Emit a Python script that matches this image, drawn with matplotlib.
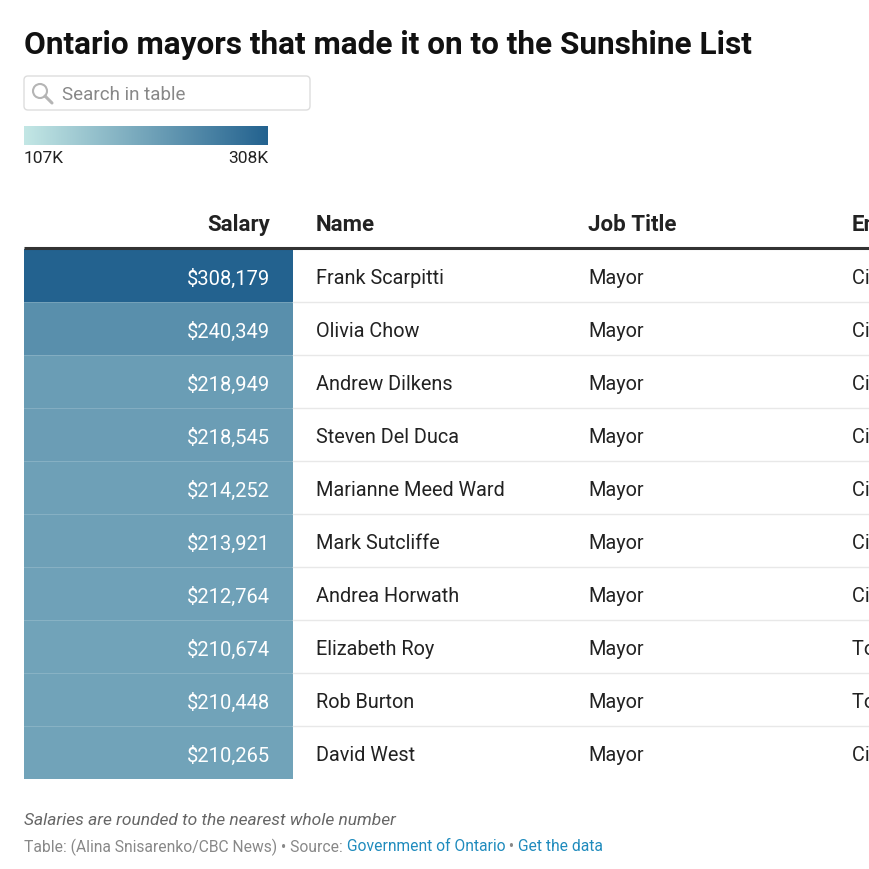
import matplotlib
matplotlib.use("Agg")
import matplotlib.pyplot as plt
from matplotlib.colors import LinearSegmentedColormap, Normalize
from matplotlib.patches import Rectangle, FancyBboxPatch, Circle
import numpy as np

plt.rcParams['font.family'] = ['Roboto', 'DejaVu Sans']

# Data
salaries = [308179, 240349, 218949, 218545, 214252, 213921, 212764, 210674, 210448, 210265]
names = ["Frank Scarpitti", "Olivia Chow", "Andrew Dilkens", "Steven Del Duca",
         "Marianne Meed Ward", "Mark Sutcliffe", "Andrea Horwath", "Elizabeth Roy",
         "Rob Burton", "David West"]
job_titles = ["Mayor"] * 10
employers = ["City of Markham", "City of Toronto", "City of Windsor", "City of Vaughan",
             "City of Burlington", "City of Ottawa", "City of Hamilton", "Town of Whitby",
             "Town of Oakville", "City of Richmond Hill"]
headers = ["Salary", "Name", "Job Title", "Employer"]
scale_min, scale_max = 107000, 308179
scale_labels = ["107K", "308K"]

title = "Ontario mayors that made it on to the Sunshine List"
note = "Salaries are rounded to the nearest whole number"

cmap = LinearSegmentedColormap.from_list("sun", ["#c3e7e5", "#23628f"])
norm = Normalize(vmin=scale_min, vmax=scale_max)

W, H = 869, 870
fig = plt.figure(figsize=(W / 100, H / 100), dpi=100)
ax = fig.add_axes([0, 0, 1, 1])
ax.set_xlim(0, W)
ax.set_ylim(H, 0)
ax.axis("off")

# Title
ax.text(24, 45, title, fontsize=22.7, fontweight="bold", color="#111111",
        va="center", ha="left")

# Search box
ax.add_patch(FancyBboxPatch((24, 77), 286, 34, boxstyle="round,pad=0,rounding_size=4",
                            fc="white", ec="#dddddd", lw=1))
ax.add_patch(Circle((40, 92), 7, fc="none", ec="#b5b5b5", lw=1.5))
ax.plot([45, 52], [97, 104], color="#b5b5b5", lw=2.2, solid_capstyle="round")
ax.text(62, 95.5, "Search in table", fontsize=13.5, color="#888888", va="center", ha="left")

# Colour scale legend
grad = np.linspace(0, 1, 256).reshape(1, -1)
ax.imshow(grad, cmap=cmap, extent=(24, 268, 146, 127), aspect="auto")
ax.text(24, 158.5, scale_labels[0], fontsize=12.5, color="#222222", va="center", ha="left")
ax.text(268, 158.5, scale_labels[1], fontsize=12.5, color="#222222", va="center", ha="right")

# Header
head_y = 225
ax.text(270, head_y, headers[0], fontsize=16, fontweight="bold", color="#222222",
        va="center", ha="right")
col_x = [316, 588, 852]
for x, h in zip(col_x, headers[1:]):
    ax.text(x, head_y, h, fontsize=16, fontweight="bold", color="#222222",
            va="center", ha="left")

# Rows
top = 250
row_h = 53
for i, sal in enumerate(salaries):
    y0 = top + i * row_h
    yc = y0 + row_h / 2 + 2
    ax.add_patch(Rectangle((24, y0), 269, row_h, fc=cmap(norm(sal)), ec="none"))
    if i > 0:
        ax.plot([24, 293], [y0, y0], color="white", lw=0.6, alpha=0.2)
    ax.text(270, yc, f"${sal:,}", fontsize=14.5, color="white", va="center", ha="right")
    ax.text(col_x[0], yc, names[i], fontsize=14.3, color="#222222", va="center", ha="left")
    ax.text(col_x[1], yc, job_titles[i], fontsize=14.3, color="#222222", va="center", ha="left")
    ax.text(col_x[2], yc, employers[i], fontsize=14.3, color="#222222", va="center",
            ha="left", clip_on=True)
    if i < len(salaries) - 1:
        ax.plot([293, W], [y0 + row_h, y0 + row_h], color="#e8e8e8", lw=1)

ax.plot([24, W], [249, 249], color="#333333", lw=2.2, solid_capstyle="butt")

# Footer
ax.text(24, 821, note, fontsize=12.5, style="italic", color="#666666", va="center", ha="left")

fig.canvas.draw()
renderer = fig.canvas.get_renderer()
parts = [("Table: (Alina Snisarenko/CBC News) \u2022 Source: ", "#888888"),
         ("Government of Ontario", "#1f8bbd"),
         (" \u2022 ", "#888888"),
         ("Get the data", "#1f8bbd")]
x = 24
for txt, col in parts:
    t = ax.text(x, 847, txt, fontsize=11.25, color=col, va="center", ha="left")
    bb = t.get_window_extent(renderer=renderer)
    x += bb.width

fig.savefig("out.png", dpi=100, facecolor="white")
